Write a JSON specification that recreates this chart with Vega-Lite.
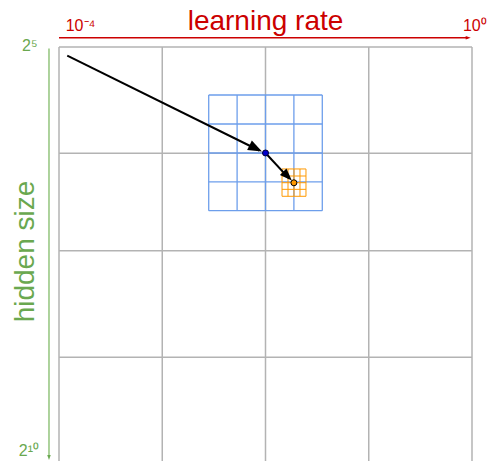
{
  "$schema": "https://vega.github.io/schema/vega-lite/v6.json",
  "width": 413,
  "height": 414,
  "autosize": {"type": "none"},
  "padding": {"left": 59, "top": 47, "right": 15, "bottom": 0},
  "background": "white",
  "config": {"view": {"stroke": null}, "font": "Liberation Sans"},
  "datasets": {
    "lines": [
      {"g": "gray", "x": -4, "x2": -4, "y": 5, "y2": 10},
      {"g": "gray", "x": -3, "x2": -3, "y": 5, "y2": 10},
      {"g": "gray", "x": -2, "x2": -2, "y": 5, "y2": 10},
      {"g": "gray", "x": -1, "x2": -1, "y": 5, "y2": 10},
      {"g": "gray", "x": 0, "x2": 0, "y": 5, "y2": 10},
      {"g": "gray", "x": -4, "x2": 0, "y": 5, "y2": 5},
      {"g": "gray", "x": -4, "x2": 0, "y": 6.284, "y2": 6.284},
      {"g": "gray", "x": -4, "x2": 0, "y": 7.46, "y2": 7.46},
      {"g": "gray", "x": -4, "x2": 0, "y": 8.748, "y2": 8.748},
      {"g": "blue", "x": -2.55, "x2": -2.55, "y": 5.58, "y2": 6.977},
      {"g": "blue", "x": -2.275, "x2": -2.275, "y": 5.58, "y2": 6.977},
      {"g": "blue", "x": -2, "x2": -2, "y": 5.58, "y2": 6.977},
      {"g": "blue", "x": -1.725, "x2": -1.725, "y": 5.58, "y2": 6.977},
      {"g": "blue", "x": -1.45, "x2": -1.45, "y": 5.58, "y2": 6.977},
      {"g": "blue", "x": -2.55, "x2": -1.45, "y": 5.58, "y2": 5.58},
      {"g": "blue", "x": -2.55, "x2": -1.45, "y": 5.93, "y2": 5.93},
      {"g": "blue", "x": -2.55, "x2": -1.45, "y": 6.28, "y2": 6.28},
      {"g": "blue", "x": -2.55, "x2": -1.45, "y": 6.63, "y2": 6.63},
      {"g": "blue", "x": -2.55, "x2": -1.45, "y": 6.977, "y2": 6.977},
      {"g": "orange", "x": -1.84, "x2": -1.84, "y": 6.473, "y2": 6.803},
      {"g": "orange", "x": -1.782, "x2": -1.782, "y": 6.473, "y2": 6.803},
      {"g": "orange", "x": -1.724, "x2": -1.724, "y": 6.473, "y2": 6.803},
      {"g": "orange", "x": -1.666, "x2": -1.666, "y": 6.473, "y2": 6.803},
      {"g": "orange", "x": -1.608, "x2": -1.608, "y": 6.473, "y2": 6.803},
      {"g": "orange", "x": -1.84, "x2": -1.608, "y": 6.473, "y2": 6.473},
      {"g": "orange", "x": -1.84, "x2": -1.608, "y": 6.558, "y2": 6.558},
      {"g": "orange", "x": -1.84, "x2": -1.608, "y": 6.639, "y2": 6.639},
      {"g": "orange", "x": -1.84, "x2": -1.608, "y": 6.719, "y2": 6.719},
      {"g": "orange", "x": -1.84, "x2": -1.608, "y": 6.803, "y2": 6.803},
      {"g": "black", "x": -3.92, "x2": -2.06, "y": 5.105, "y2": 6.25},
      {"g": "black", "x": -2, "x2": -1.77, "y": 6.28, "y2": 6.59},
      {"g": "red", "x": -4, "x2": -0.04, "y": 4.888, "y2": 4.888},
      {"g": "green", "x": -4.097, "x2": -4.097, "y": 5.018, "y2": 9.95}
    ],
    "heads": [
      {"h": "a1", "x": -2.034, "y": 6.262},
      {"h": "a2", "x": -1.7453, "y": 6.612},
      {"h": "red", "x": -0.0126, "y": 4.888},
      {"h": "green", "x": -4.097, "y": 9.988}
    ],
    "dots": [
      {"c": "blue", "x": -2, "y": 6.28},
      {"c": "orange", "x": -1.725, "y": 6.64}
    ],
    "labels": [
      {"k": "xtitle", "text": "learning rate", "x": -2.0, "y": 4.789},
      {"k": "xtick", "text": "10⁻⁴", "x": -3.935, "y": 4.807},
      {"k": "xtickr", "text": "10⁰", "x": 0.143, "y": 4.807},
      {"k": "ytick", "text": "2⁵", "x": -4.208, "y": 5.048},
      {"k": "ytick", "text": "2¹⁰", "x": -4.194, "y": 9.94},
      {"k": "ytitle", "text": "hidden size", "x": -4.242, "y": 7.47}
    ]
  },
  "encoding": {
    "x": {"field": "x", "type": "quantitative", "scale": {"domain": [-4, 0], "nice": false, "zero": false}, "axis": null},
    "y": {"field": "y", "type": "quantitative", "scale": {"domain": [5, 10], "nice": false, "zero": false, "reverse": true}, "axis": null}
  },
  "layer": [
    {"data": {"name": "lines"}, "transform": [{"filter": "datum.g === 'gray'"}], "mark": {"type": "rule", "color": "#b3b3b3", "strokeWidth": 1.5}, "encoding": {"x2": {"field": "x2"}, "y2": {"field": "y2"}}},
    {"data": {"name": "lines"}, "transform": [{"filter": "datum.g === 'blue'"}], "mark": {"type": "rule", "color": "#6d9eeb", "strokeWidth": 1.3}, "encoding": {"x2": {"field": "x2"}, "y2": {"field": "y2"}}},
    {"data": {"name": "lines"}, "transform": [{"filter": "datum.g === 'orange'"}], "mark": {"type": "rule", "color": "#ff9900", "strokeWidth": 1}, "encoding": {"x2": {"field": "x2"}, "y2": {"field": "y2"}}},
    {"data": {"name": "lines"}, "transform": [{"filter": "datum.g === 'black'"}], "mark": {"type": "rule", "color": "#000000", "strokeWidth": 2}, "encoding": {"x2": {"field": "x2"}, "y2": {"field": "y2"}}},
    {"data": {"name": "lines"}, "transform": [{"filter": "datum.g === 'red'"}], "mark": {"type": "rule", "color": "#cc0000", "strokeWidth": 1.5}, "encoding": {"x2": {"field": "x2"}, "y2": {"field": "y2"}}},
    {"data": {"name": "lines"}, "transform": [{"filter": "datum.g === 'green'"}], "mark": {"type": "rule", "color": "#93c47d", "strokeWidth": 1.5}, "encoding": {"x2": {"field": "x2"}, "y2": {"field": "y2"}}},
    {"data": {"name": "heads"}, "transform": [{"filter": "datum.h === 'a1'"}], "mark": {"type": "point", "shape": "M0,0L-2,-0.75L-2,0.75Z", "filled": true, "color": "#000000", "opacity": 1, "size": 196, "angle": 26.7, "strokeWidth": 0}},
    {"data": {"name": "heads"}, "transform": [{"filter": "datum.h === 'a2'"}], "mark": {"type": "point", "shape": "M0,0L-2,-0.75L-2,0.75Z", "filled": true, "color": "#000000", "opacity": 1, "size": 150, "angle": 45.4, "strokeWidth": 0}},
    {"data": {"name": "heads"}, "transform": [{"filter": "datum.h === 'red'"}], "mark": {"type": "point", "shape": "M0,0L-2,-0.7L-2,0.7Z", "filled": true, "color": "#cc0000", "opacity": 1, "size": 25, "angle": 0, "strokeWidth": 0}},
    {"data": {"name": "heads"}, "transform": [{"filter": "datum.h === 'green'"}], "mark": {"type": "point", "shape": "M0,0L-2,-0.7L-2,0.7Z", "filled": true, "color": "#6aa84f", "opacity": 1, "size": 25, "angle": 90, "strokeWidth": 0}},
    {"data": {"name": "dots"}, "transform": [{"filter": "datum.c === 'blue'"}], "mark": {"type": "point", "shape": "circle", "filled": true, "fill": "#0000cc", "stroke": "#000033", "strokeWidth": 1, "opacity": 1, "size": 36}},
    {"data": {"name": "dots"}, "transform": [{"filter": "datum.c === 'orange'"}], "mark": {"type": "point", "shape": "circle", "filled": true, "fill": "#ff9900", "stroke": "#000000", "strokeWidth": 1, "opacity": 1, "size": 36}},
    {"data": {"name": "labels"}, "transform": [{"filter": "datum.k === 'xtitle'"}], "mark": {"type": "text", "font": "Liberation Sans", "fontSize": 28, "color": "#cc0000", "align": "center", "baseline": "alphabetic"}, "encoding": {"text": {"field": "text"}}},
    {"data": {"name": "labels"}, "transform": [{"filter": "datum.k === 'xtick'"}], "mark": {"type": "text", "font": "Liberation Sans", "fontSize": 16, "color": "#cc0000", "align": "left", "baseline": "alphabetic"}, "encoding": {"text": {"field": "text"}}},
    {"data": {"name": "labels"}, "transform": [{"filter": "datum.k === 'xtickr'"}], "mark": {"type": "text", "font": "Liberation Sans", "fontSize": 16, "color": "#cc0000", "align": "right", "baseline": "alphabetic"}, "encoding": {"text": {"field": "text"}}},
    {"data": {"name": "labels"}, "transform": [{"filter": "datum.k === 'ytick'"}], "mark": {"type": "text", "font": "Liberation Sans", "fontSize": 16, "color": "#6aa84f", "align": "right", "baseline": "alphabetic"}, "encoding": {"text": {"field": "text"}}},
    {"data": {"name": "labels"}, "transform": [{"filter": "datum.k === 'ytitle'"}], "mark": {"type": "text", "font": "Liberation Sans", "fontSize": 28, "color": "#6aa84f", "align": "center", "baseline": "alphabetic", "angle": 270}, "encoding": {"text": {"field": "text"}}}
  ]
}
